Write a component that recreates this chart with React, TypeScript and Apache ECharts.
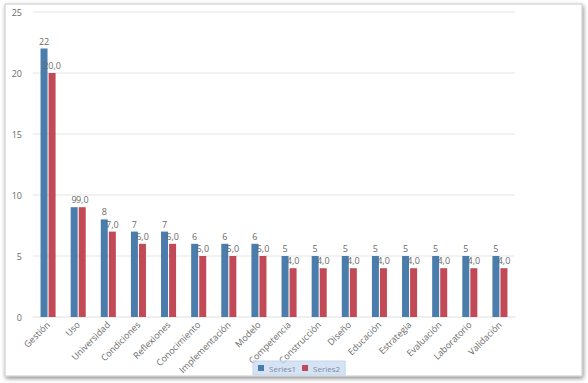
import React, { useEffect, useRef } from "react";
import * as echarts from "echarts";

const categories = [
  "Gestión", "Uso", "Universidad", "Condiciones", "Reflexiones", "Conocimiento",
  "Implementación", "Modelo", "Competencia", "Construcción", "Diseño", "Educación",
  "Estrategia", "Evaluación", "Laboratorio", "Validación",
];
const series1 = [22, 9, 8, 7, 7, 6, 6, 6, 5, 5, 5, 5, 5, 5, 5, 5];
const series2 = [20, 9, 7, 6, 6, 5, 5, 5, 4, 4, 4, 4, 4, 4, 4, 4];
const seriesNames = ["Series1", "Series2"];

export default function App() {
  const ref = useRef<HTMLDivElement>(null);
  useEffect(() => {
    if (!ref.current) return;
    const chart = echarts.init(ref.current, undefined, { renderer: "svg" });
    const labelStyle = { color: "#6a6a6a", fontSize: 9, fontFamily: "Open Sans" };
    chart.setOption({
      animation: false,
      backgroundColor: "#ffffff",
      graphic: [
        {
          type: "rect",
          z: -10,
          shape: { x: 5, y: 4, width: 577, height: 372 },
          style: {
            fill: "#ffffff",
            stroke: "#c8c8c8",
            lineWidth: 1,
            shadowBlur: 4,
            shadowOffsetX: 1,
            shadowOffsetY: 2,
            shadowColor: "rgba(0,0,0,0.45)",
          },
        },
      ],
      grid: { left: 33, right: 73, top: 12, bottom: 66, containLabel: false },
      legend: {
        data: seriesNames,
        left: 253,
        top: 361,
        itemWidth: 6,
        itemHeight: 6,
        itemGap: 6,
        padding: [3, 5],
        backgroundColor: "rgba(200,218,240,0.75)",
        borderColor: "#c6d6ea",
        borderWidth: 1,
        icon: "rect",
        textStyle: { color: "#7a8aa0", fontSize: 8, fontFamily: "Open Sans" },
      },
      xAxis: {
        type: "category",
        data: categories,
        axisLine: { show: true, lineStyle: { color: "#eeeeee", width: 1.5 } },
        axisTick: { show: false },
        axisLabel: {
          rotate: 45,
          interval: 0,
          color: "#6a6a6a",
          fontSize: 9,
          fontFamily: "Open Sans",
          margin: 6,
        },
      },
      yAxis: {
        type: "value",
        min: 0,
        max: 25,
        interval: 5,
        axisLine: { show: false },
        axisTick: { show: false },
        axisLabel: { color: "#6a6a6a", fontSize: 9, fontFamily: "Open Sans", margin: 11 },
        splitLine: { lineStyle: { color: "#eeeeee", width: 1.5 } },
      },
      series: [
        {
          name: seriesNames[0],
          type: "bar",
          data: series1,
          barWidth: 7,
          barGap: "15%",
          itemStyle: { color: "#4A7DAB" },
          label: {
            show: true,
            position: "top",
            distance: 3,
            ...labelStyle,
            formatter: (p: any) => String(p.value),
          },
        },
        {
          name: seriesNames[1],
          type: "bar",
          data: series2,
          barWidth: 7,
          itemStyle: { color: "#C24A56" },
          label: {
            show: true,
            position: "top",
            distance: 3,
            ...labelStyle,
            formatter: (p: any) => `${p.value},0`,
          },
        },
      ],
    });
    return () => chart.dispose();
  }, []);
  return (
    <div
      ref={ref}
      style={{ position: "fixed", left: 0, top: 0, width: 588, height: 383 }}
    />
  );
}
